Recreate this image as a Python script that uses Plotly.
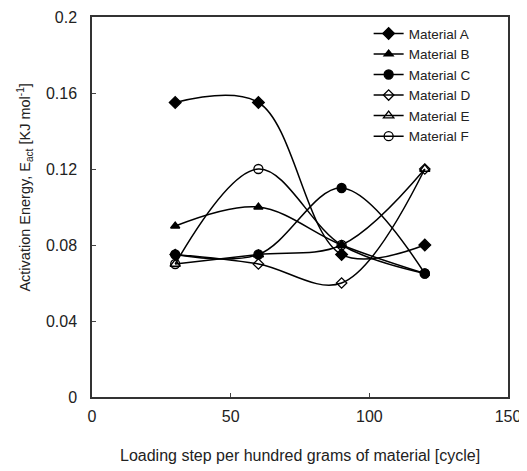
import plotly.graph_objects as go

x_vals = [30, 60, 90, 120]
material_a = [0.155, 0.155, 0.075, 0.08]
material_b = [0.09, 0.10, 0.08, 0.065]
material_c = [0.075, 0.075, 0.11, 0.065]
material_d = [0.075, 0.07, 0.06, 0.12]
material_e = [0.07, 0.075, 0.08, 0.12]
material_f = [0.07, 0.12, 0.08, 0.065]

names = ["Material A", "Material B", "Material C", "Material D", "Material E", "Material F"]
series = [material_a, material_b, material_c, material_d, material_e, material_f]
symbols = ["diamond", "triangle-up", "circle", "diamond-open", "triangle-up-open", "circle-open"]
sizes = [9, 8, 9, 8, 9, 9]

fig = go.Figure()
for name, ys, sym, sz in zip(names, series, symbols, sizes):
    fig.add_trace(go.Scatter(
        x=x_vals, y=ys, name=name, mode="lines+markers",
        line=dict(color="black", width=1.5, shape="spline", smoothing=1.0),
        marker=dict(symbol=sym, size=sz, color="black", line=dict(color="black", width=1.3)),
    ))

font_family = "Liberation Sans, Arial, sans-serif"
fig.update_layout(
    width=519, height=463,
    margin=dict(l=84, r=19, t=9, b=74, autoexpand=False),
    paper_bgcolor="white", plot_bgcolor="white",
    font=dict(family=font_family, size=16, color="#222"),
    showlegend=True,
    legend=dict(x=0.665, y=0.997, xanchor="left", yanchor="top",
                bgcolor="rgba(0,0,0,0)", font=dict(size=13.5, color="#222"),
                tracegroupgap=0, itemwidth=30),
    xaxis=dict(range=[0, 150], tickvals=[0, 50, 100, 150], ticks="inside", ticklen=4,
               showline=True, linecolor="#333", linewidth=1.5, mirror=True, automargin=False,
               showgrid=False, zeroline=False, ticklabelstandoff=4),
    yaxis=dict(range=[0, 0.2], tickvals=[0, 0.04, 0.08, 0.12, 0.16, 0.2],
               ticktext=["0", "0.04", "0.08", "0.12", "0.16", "0.2"],
               ticks="inside", ticklen=4, automargin=False,
               showline=True, linecolor="#333", linewidth=1.5, mirror=True,
               showgrid=False, zeroline=False, ticklabelstandoff=10),
    annotations=[
        dict(text="Loading step per hundred grams of material [cycle]",
             xref="paper", yref="paper", x=0.5, y=-0.155, xanchor="center", yanchor="middle",
             showarrow=False, font=dict(size=16, color="#222")),
        dict(text="Activation Energy, E<sub>act</sub> [KJ mol<sup>-1</sup>]",
             xref="paper", yref="paper", x=-0.162, y=0.55, xanchor="center", yanchor="middle",
             textangle=-90, showarrow=False, font=dict(size=14.5, color="#222")),
    ],
)

fig.write_html("out.html")
